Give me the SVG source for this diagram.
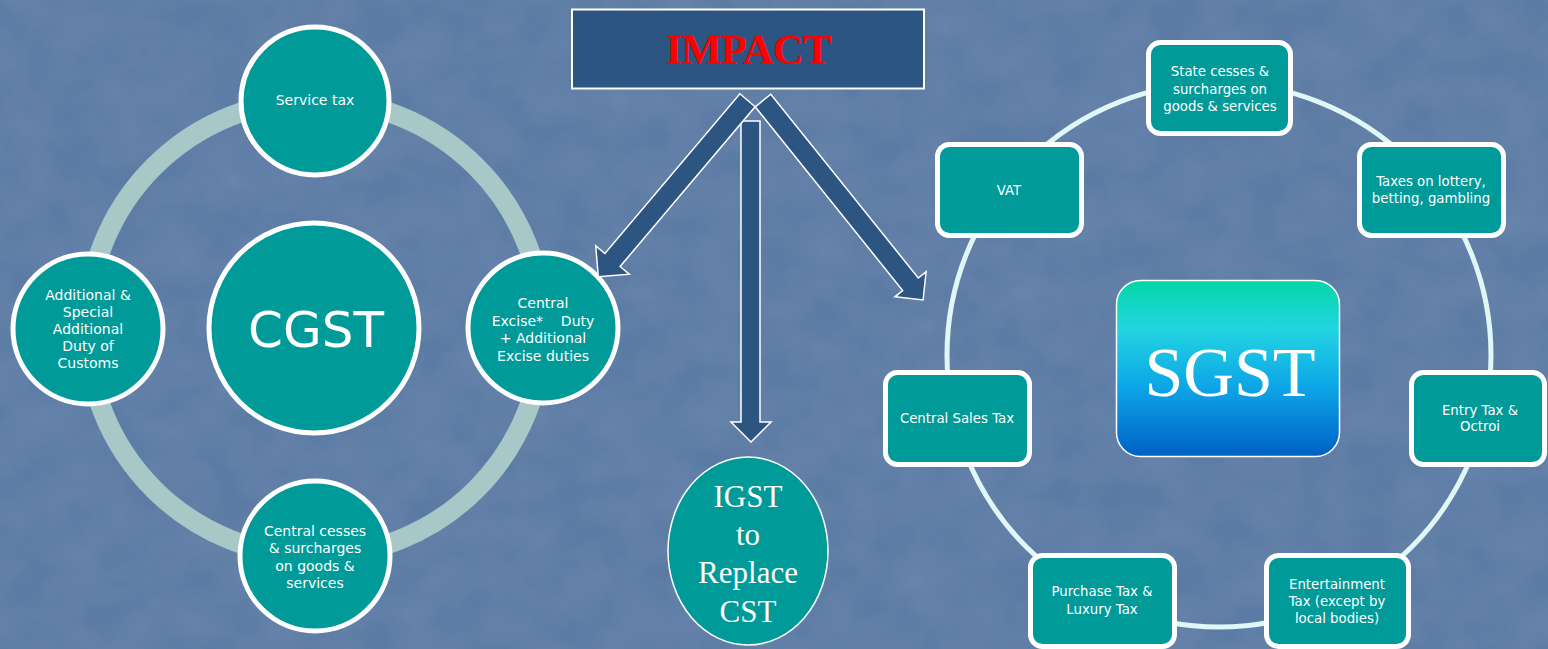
<svg xmlns="http://www.w3.org/2000/svg" width="1548" height="649" viewBox="0 0 1548 649">
<defs>
<linearGradient id="sg" x1="0" y1="0" x2="0" y2="1">
<stop offset="0" stop-color="#05d6a8"/>
<stop offset="0.28" stop-color="#22d4e2"/>
<stop offset="0.6" stop-color="#0da6e6"/>
<stop offset="1" stop-color="#0060c6"/>
</linearGradient>
<filter id="tex" x="0" y="0" width="100%" height="100%">
<feTurbulence type="fractalNoise" baseFrequency="0.02 0.025" numOctaves="3" seed="7"/>
<feColorMatrix type="matrix" values="0 0 0 0 1  0 0 0 0 1  0 0 0 0 1  0 0 0 0.1 0"/>
</filter>
</defs>
<style>
.cir{fill:#009a99;stroke:#ffffff;stroke-width:5}
.box{fill:#009a99;stroke:#ffffff;stroke-width:5}
.t{font-family:"DejaVu Sans",Verdana,sans-serif;font-size:14px;fill:#ffffff;text-anchor:middle}
.ts{font-family:"DejaVu Sans",Verdana,sans-serif;font-size:13.3px;fill:#ffffff;text-anchor:middle}
.serif{font-family:"Liberation Serif","Times New Roman",serif;fill:#ffffff;text-anchor:middle}
.arr{fill:#2c5581;stroke:#ffffff;stroke-width:1.5;stroke-linejoin:miter}
</style>
<rect x="0" y="0" width="1548" height="649" fill="#5878a2"/>
<rect x="0" y="0" width="1548" height="649" filter="url(#tex)"/>

<g id="connectors">
<circle cx="315" cy="328" r="228" fill="none" stroke="#a8c8c7" stroke-width="20"/>
<circle cx="1219" cy="355" r="272" fill="none" stroke="#dff7f7" stroke-width="5"/>
</g>

<g id="cgst">
<circle class="cir" cx="314" cy="328" r="105"/>
<text x="316" y="347" font-family="DejaVu Sans,Verdana,sans-serif" font-size="50" fill="#fff" text-anchor="middle">CGST</text>
</g>
<g id="service-tax">
<circle class="cir" cx="315" cy="101" r="74"/>
<text class="t" x="315" y="105">Service tax</text>
</g>
<g id="additional-customs">
<circle class="cir" cx="88" cy="329" r="75"/>
<text class="t" x="88" y="300">Additional &amp;</text>
<text class="t" x="88" y="317">Special</text>
<text class="t" x="88" y="334">Additional</text>
<text class="t" x="88" y="351">Duty of</text>
<text class="t" x="88" y="368">Customs</text>
</g>
<g id="central-excise">
<circle class="cir" cx="543" cy="328" r="75"/>
<text class="t" x="543" y="308">Central</text>
<text class="t" x="543" y="326" xml:space="preserve">Excise*    Duty</text>
<text class="t" x="543" y="343">+ Additional</text>
<text class="t" x="543" y="361">Excise duties</text>
</g>
<g id="central-cesses">
<circle class="cir" cx="315" cy="556" r="75"/>
<text class="t" x="315" y="536">Central cesses</text>
<text class="t" x="315" y="553">&amp; surcharges</text>
<text class="t" x="315" y="571">on goods &amp;</text>
<text class="t" x="315" y="588">services</text>
</g>

<g id="state-cesses">
<rect class="box" x="1148.5" y="42.5" width="142" height="91" rx="12"/>
<text class="ts" x="1220" y="76">State cesses &amp;</text>
<text class="ts" x="1220" y="94">surcharges on</text>
<text class="ts" x="1220" y="111">goods &amp; services</text>
</g>
<g id="vat">
<rect class="box" x="937.5" y="144.5" width="144" height="91" rx="12"/>
<text class="ts" x="1009" y="195">VAT</text>
</g>
<g id="lottery">
<rect class="box" x="1359.5" y="144.5" width="144" height="91" rx="12"/>
<text class="ts" x="1431" y="186">Taxes on lottery,</text>
<text class="ts" x="1431" y="203">betting, gambling</text>
</g>
<g id="cst">
<rect class="box" x="885.5" y="372.5" width="144" height="92" rx="12"/>
<text class="ts" x="957" y="423">Central Sales Tax</text>
</g>
<g id="entry-tax">
<rect class="box" x="1411.5" y="372.5" width="133" height="92" rx="12"/>
<text class="ts" x="1480" y="415">Entry Tax &amp;</text>
<text class="ts" x="1480" y="431">Octroi</text>
</g>
<g id="purchase-tax">
<rect class="box" x="1030.5" y="555.5" width="144" height="91" rx="12"/>
<text class="ts" x="1102" y="596">Purchase Tax &amp;</text>
<text class="ts" x="1102" y="614">Luxury Tax</text>
</g>
<g id="entertainment-tax">
<rect class="box" x="1266.5" y="555.5" width="142" height="91" rx="12"/>
<text class="ts" x="1337" y="589">Entertainment</text>
<text class="ts" x="1337" y="606">Tax (except by</text>
<text class="ts" x="1337" y="623">local bodies)</text>
</g>
<g id="sgst">
<rect x="1116.5" y="280.5" width="223" height="176" rx="24" fill="url(#sg)" stroke="#ffffff" stroke-width="1.5"/>
<text class="serif" x="1230" y="396" font-size="70">SGST</text>
</g>

<g id="igst">
<ellipse cx="748" cy="551" rx="80" ry="94" fill="#009a99" stroke="#ffffff" stroke-width="1.5"/>
<text class="serif" x="748" y="507" font-size="31">IGST</text>
<text class="serif" x="748" y="545" font-size="31">to</text>
<text class="serif" x="748" y="583" font-size="31">Replace</text>
<text class="serif" x="748" y="622" font-size="31">CST</text>
</g>

<g id="arrows">
<polygon class="arr" points="770.8,94.2 918.3,278 926.1,271.8 923.1,300 894.9,296.8 902.7,290.6 755.2,106.8"/>
<polygon class="arr" points="741,121 760,121 760,422 771,422 751,442 731,422 741,422"/>
<polygon class="arr" points="739.9,93.8 755.1,106.8 620.1,266.5 629.3,274.2 598.3,276.8 595.7,245.8 604.9,253.5"/>
</g>

<g id="impact">
<rect x="572" y="9.5" width="352" height="79" fill="#2c5581" stroke="#ffffff" stroke-width="2"/>
<text x="748" y="64" font-family="Liberation Serif,'Times New Roman',serif" font-weight="bold" font-size="43" fill="#ff0000" text-anchor="middle" letter-spacing="-1">IMPACT</text>
</g>
</svg>
